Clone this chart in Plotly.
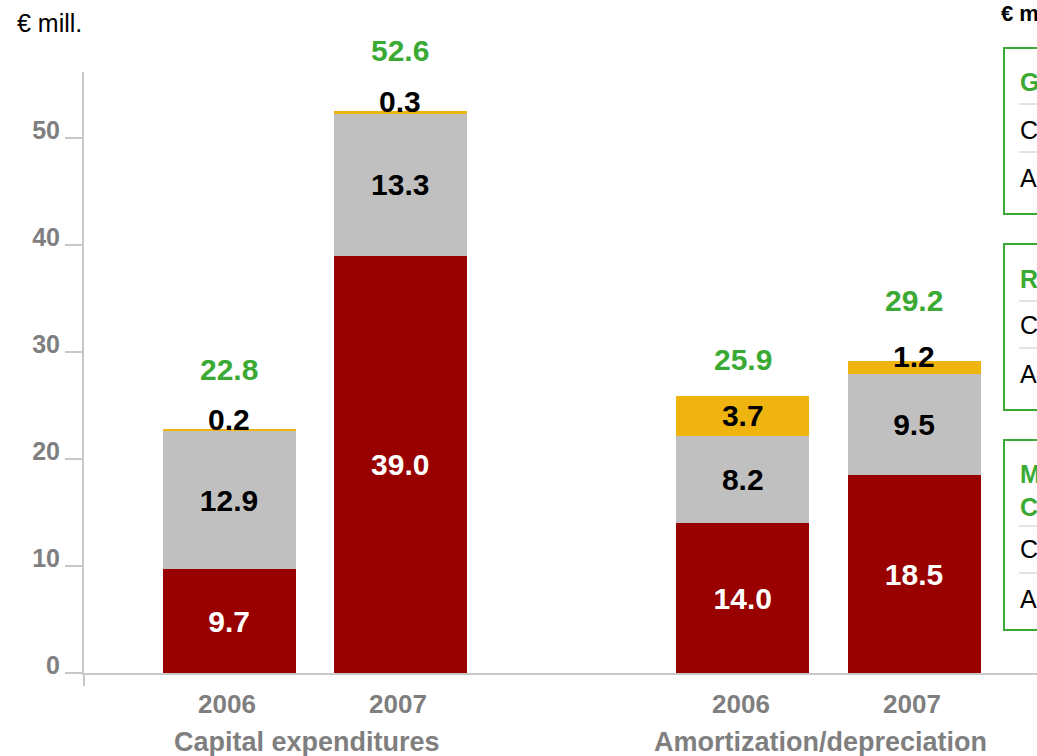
import plotly.graph_objects as go

# ---- data -------------------------------------------------------------
groups = ["Capital expenditures", "Amortization/depreciation"]
years = ["2006", "2007"]
bottom_vals = [9.7, 39.0, 14.0, 18.5]    # dark red segment
middle_vals = [12.9, 13.3, 8.2, 9.5]     # grey segment
top_vals = [0.2, 0.3, 3.7, 1.2]          # gold segment
totals = [22.8, 52.6, 25.9, 29.2]
y_ticks = [0, 10, 20, 30, 40, 50]

box_titles = ["Group", "Regulated", "Market<br>Companies"]
box_rows = [["Capex", "Amortization"], ["Capex", "Amortization"], ["Capex", "Amortization"]]

# ---- styling ----------------------------------------------------------
RED, GREY, GOLD = "#990000", "#C0C0C0", "#F0B410"
GREEN, AXIS_GREY, TEXT_GREY = "#3AAA35", "#C8C8C8", "#7F7F7F"
FONT = "Arial, Liberation Sans, sans-serif"

W, H = 1037, 756
L, R, T, B = 84, 0, 72, 83


def px_x(p):
    return (p - L) / (W - L - R)


def px_y(p):
    return (H - B - p) / (H - T - B)


# two bars per group, one empty slot between the groups
x_pos = [g * 3 + i for g in range(len(groups)) for i in range(len(years))]
year_labels = [years[i] for g in range(len(groups)) for i in range(len(years))]


def seg_text(vals):
    return [f"{v:.1f}" if v >= 2 else "" for v in vals]


fig = go.Figure()
for vals, color, tcolor in [(bottom_vals, RED, "white"),
                            (middle_vals, GREY, "black"),
                            (top_vals, GOLD, "black")]:
    fig.add_trace(go.Bar(
        x=x_pos, y=vals, width=0.777,
        marker=dict(color=color, line=dict(width=0)),
        text=seg_text(vals), textposition="inside", insidetextanchor="middle",
        textangle=0,
        textfont=dict(family=FONT, size=30, color=tcolor, weight="bold"),
        hoverinfo="skip", showlegend=False,
    ))

annotations = []
# labels for thin top segments, sitting just above the bar
for i, v in enumerate(top_vals):
    if v < 2:
        annotations.append(dict(
            x=x_pos[i], y=bottom_vals[i] + middle_vals[i] + v / 2, yshift=11,
            text=f"{v:.1f}", showarrow=False,
            font=dict(family=FONT, size=30, color="black", weight="bold")))
# totals in green
for i, t in enumerate(totals):
    annotations.append(dict(
        x=x_pos[i], y=t, yshift=60 if top_vals[i] < 2 else 37,
        text=f"{t:.1f}", showarrow=False,
        font=dict(family=FONT, size=30, color=GREEN, weight="bold")))
# year labels and group labels under the axis
for xp, yl in zip(x_pos, year_labels):
    annotations.append(dict(
        x=xp, y=0, yref="paper", yanchor="middle", yshift=-31, xshift=-2,
        text=yl, showarrow=False,
        font=dict(family=FONT, size=26, color=TEXT_GREY, weight="bold")))
for g, name in enumerate(groups):
    annotations.append(dict(
        x=g * 3 + 0.5, y=0, yref="paper", yanchor="middle", yshift=-69,
        xshift=-8, text=name, showarrow=False,
        font=dict(family=FONT, size=27, color=TEXT_GREY, weight="bold")))
# unit labels
annotations.append(dict(
    x=px_x(15), y=px_y(23), xref="paper", yref="paper",
    xanchor="left", yanchor="middle", text="€ mill.", showarrow=False,
    font=dict(family=FONT, size=25, color="black")))
annotations.append(dict(
    x=px_x(999), y=px_y(13), xref="paper", yref="paper",
    xanchor="left", yanchor="middle", text="€ mill.", showarrow=False,
    font=dict(family=FONT, size=22, color="black", weight="bold")))

shapes = [
    # y-axis line continues a little below the baseline
    dict(type="line", xref="paper", yref="paper", x0=0, x1=0,
         y0=0, y1=px_y(686), line=dict(color=AXIS_GREY, width=2)),
]

# side boxes
box_tops = [48, 244, 440]
box_bottoms = [214, 410, 630]
title_ys = [82, 279, 490]
row_ys = [[130, 178], [325, 374], [549, 599]]
sep_ys = [[104, 152], [301, 348], [526, 573]]
for k in range(len(box_titles)):
    shapes.append(dict(type="rect", xref="paper", yref="paper",
                       x0=px_x(1004), x1=px_x(1200),
                       y0=px_y(box_bottoms[k]), y1=px_y(box_tops[k]),
                       line=dict(color=GREEN, width=2), fillcolor="white"))
    for sy in sep_ys[k]:
        shapes.append(dict(type="line", xref="paper", yref="paper",
                           x0=px_x(1019), x1=px_x(1200),
                           y0=px_y(sy), y1=px_y(sy),
                           line=dict(color="#C8C8C8", width=1)))
    annotations.append(dict(
        x=px_x(1018), y=px_y(title_ys[k]), xref="paper", yref="paper",
        xanchor="left", yanchor="middle", align="left",
        text=box_titles[k], showarrow=False,
        font=dict(family=FONT, size=25, color=GREEN, weight="bold")))
    for ry, rt in zip(row_ys[k], box_rows[k]):
        annotations.append(dict(
            x=px_x(1018), y=px_y(ry), xref="paper", yref="paper",
            xanchor="left", yanchor="middle", text=rt, showarrow=False,
            font=dict(family=FONT, size=25, color="black")))

fig.update_layout(
    width=W, height=H,
    margin=dict(l=L, r=R, t=T, b=B, pad=0),
    barmode="stack",
    paper_bgcolor="white", plot_bgcolor="white",
    uniformtext=dict(minsize=30, mode="show"),
    annotations=annotations, shapes=shapes,
    xaxis=dict(range=[-0.847, 4.718], showgrid=False, zeroline=False,
               showticklabels=False, ticks="",
               showline=True, linecolor=AXIS_GREY, linewidth=2),
    yaxis=dict(range=[0, 56.2], tickvals=y_ticks, showgrid=False,
               zeroline=False, showline=True, linecolor=AXIS_GREY,
               linewidth=2, ticks="outside", ticklen=17,
               tickcolor=AXIS_GREY, tickwidth=2, ticklabelshift=-8,
               tickfont=dict(family=FONT, size=25, color=TEXT_GREY,
                             weight="bold")),
)

fig.write_html("out.html")
